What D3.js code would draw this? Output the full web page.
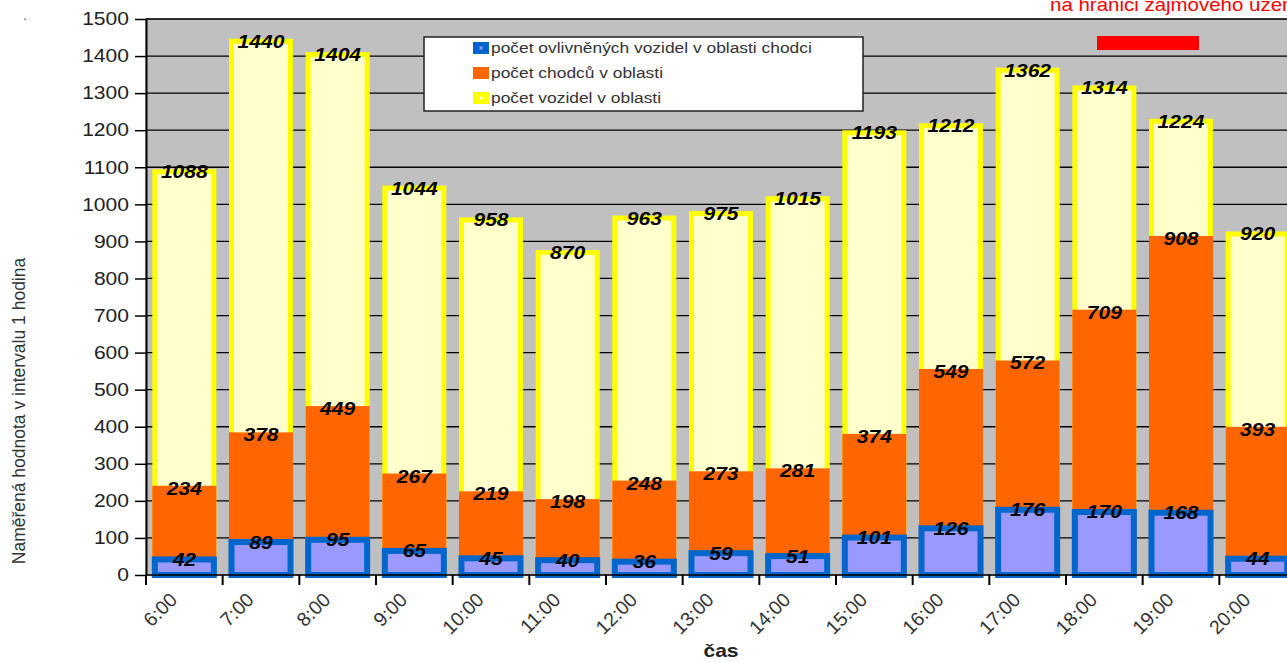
<!DOCTYPE html>
<html>
<head>
<meta charset="utf-8">
<script src="https://cdn.jsdelivr.net/npm/d3@7"></script>
<style>
  html, body { margin: 0; padding: 0; background: #fff; }
  svg { display: block; font-family: "Liberation Sans", Arial, sans-serif; }
</style>
</head>
<body>
<svg id="chart" width="1287" height="662"></svg>
<script>
// Hourly counts in the monitored area
const hours = ["6:00","7:00","8:00","9:00","10:00","11:00","12:00","13:00","14:00","15:00","16:00","17:00","18:00","19:00","20:00"];
const vehicles = [1088, 1440, 1404, 1044, 958, 870, 963, 975, 1015, 1193, 1212, 1362, 1314, 1224, 920];
const pedestrians = [234, 378, 449, 267, 219, 198, 248, 273, 281, 374, 549, 572, 709, 908, 393];
const affected = [42, 89, 95, 65, 45, 40, 36, 59, 51, 101, 126, 176, 170, 168, 44];
const yTicks = d3.range(0, 1501, 100);

const seriesNames = [
  "počet ovlivněných vozidel v oblasti chodci",
  "počet chodců v oblasti",
  "počet vozidel v oblasti"
];

const svg = d3.select("#chart");
const plotL = 146, plotR = 1296, plotT = 19, plotB = 575;
const SX = 1.17; // horizontal text widening

const x = d3.scaleBand().domain(hours).range([plotL, plotR])
  .paddingInner(0.23).paddingOuter(0.115);
const y = d3.scaleLinear().domain([0, 1500]).range([plotB, plotT]);

// plot background
svg.append("rect").attr("x", plotL).attr("y", plotT)
  .attr("width", plotR - plotL).attr("height", plotB - plotT)
  .attr("fill", "#c0c0c0").attr("stroke", "#8a8a8a").attr("stroke-width", 1);

// gridlines
svg.append("g").selectAll("line").data(yTicks.slice(1)).join("line")
  .attr("x1", plotL).attr("x2", plotR)
  .attr("y1", d => y(d)).attr("y2", d => y(d))
  .attr("stroke", "#000").attr("stroke-width", 1.3);

// bars: overlapping, each from zero
const bw = x.bandwidth();
function bars(values, fill, stroke, sw) {
  svg.append("g").selectAll("rect").data(values).join("rect")
    .attr("x", (d, i) => x(hours[i]))
    .attr("y", d => y(d))
    .attr("width", bw)
    .attr("height", d => plotB - y(d))
    .attr("fill", fill).attr("stroke", stroke).attr("stroke-width", sw);
}
bars(vehicles, "#ffffcc", "#ffff00", 5);
bars(pedestrians, "#ff6600", "#ff6600", 5);
bars(affected, "#9999ff", "#0066cc", 6);

// value labels
function labels(values) {
  svg.append("g").selectAll("text").data(values).join("text")
    .attr("transform", (d, i) => `translate(${x(hours[i]) + bw / 2},${y(d)}) scale(${SX},1)`)
    .attr("text-anchor", "middle").attr("dy", "0.36em")
    .attr("font-size", 18).attr("font-weight", "bold").attr("font-style", "italic")
    .attr("fill", "#000")
    .text(d => d);
}
labels(vehicles);
labels(pedestrians);
labels(affected);

// y axis
const yAxis = svg.append("g").attr("transform", `translate(${plotL},0)`)
  .call(d3.axisLeft(y).tickValues(yTicks).tickFormat(d3.format("d"))
    .tickSize(11).tickSizeOuter(0).tickPadding(6));
yAxis.select(".domain").attr("stroke", "#000").attr("stroke-width", 2);
yAxis.selectAll(".tick line").attr("stroke", "#000").attr("stroke-width", 1.5);
yAxis.selectAll(".tick text")
  .attr("font-size", 18).attr("fill", "#222").attr("font-family", "Liberation Sans, Arial, sans-serif")
  .attr("x", null)
  .attr("transform", `translate(-17,0) scale(${SX},1)`);

// x axis line and boundary ticks
svg.append("line").attr("x1", plotL).attr("x2", plotR).attr("y1", plotB).attr("y2", plotB)
  .attr("stroke", "#000").attr("stroke-width", 1.5);
const step = x.step();
const bounds = d3.range(hours.length + 1).map(i => plotL + i * step);
svg.append("g").selectAll("line").data(bounds).join("line")
  .attr("x1", d => d).attr("x2", d => d).attr("y1", plotB).attr("y2", plotB + 10)
  .attr("stroke", "#000").attr("stroke-width", 2);

svg.append("g").selectAll("text").data(hours).join("text")
  .attr("transform", d => `translate(${x(d) + bw / 2 - 6},${plotB + 26}) rotate(-45)`)
  .attr("text-anchor", "end")
  .attr("font-size", 19.5).attr("fill", "#333")
  .text(d => d);

// axis titles
svg.append("text").attr("transform", `translate(${(plotL + plotR) / 2},${plotB + 82}) scale(${SX},1)`)
  .attr("text-anchor", "middle").attr("font-size", 18).attr("font-weight", "bold").attr("fill", "#222")
  .text("čas");
svg.append("text").attr("transform", "translate(25,411) rotate(-90)")
  .attr("text-anchor", "middle").attr("font-size", 17.5).attr("fill", "#333")
  .text("Naměřená hodnota v intervalu 1 hodina");

svg.append("text").attr("x", 25).attr("y", 23).attr("text-anchor", "middle")
  .attr("font-size", 14).attr("fill", "#666").text("·");

// legend
const lg = svg.append("g");
lg.append("rect").attr("x", 424).attr("y", 37).attr("width", 439).attr("height", 74)
  .attr("fill", "#fff").attr("stroke", "#222").attr("stroke-width", 1.5);
const swatch = [
  { outer: "#0066cc", inner: "#9999ff" },
  { outer: "#ff6600", inner: "#ff6600" },
  { outer: "#ffff00", inner: "#ffffcc" }
];
seriesNames.forEach((name, i) => {
  const cy = 48 + i * 25;
  lg.append("rect").attr("x", 473).attr("y", cy - 6).attr("width", 16).attr("height", 12)
    .attr("fill", swatch[i].outer);
  if (i !== 1) lg.append("rect").attr("x", 479.5).attr("y", cy - 1.5).attr("width", 3).attr("height", 3)
    .attr("fill", swatch[i].inner);
  lg.append("text").attr("transform", `translate(491,${cy}) scale(1.2,1)`)
    .attr("dy", "0.36em").attr("font-size", 14.5).attr("fill", "#333").text(name);
});

// boundary note
svg.append("text").attr("transform", `translate(1050,11) scale(${SX},1)`)
  .attr("font-size", 17.5).attr("fill", "#ff0000").text("na hranici zájmového území");
svg.append("rect").attr("x", 1097).attr("y", 36).attr("width", 102).attr("height", 14).attr("fill", "#ff0000");
</script>
</body>
</html>
